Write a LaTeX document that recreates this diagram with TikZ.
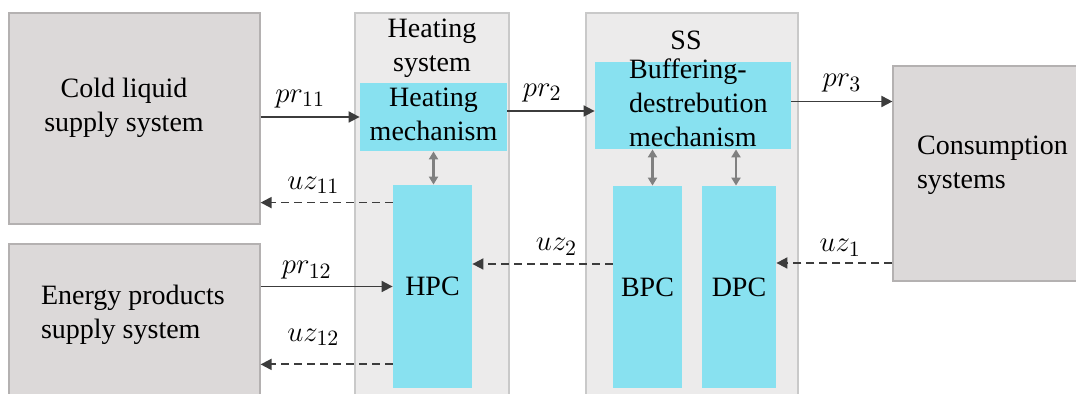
\documentclass[tikz,border=0pt]{standalone}
\usepackage{fontspec}
\setmainfont{Liberation Serif}
\usepackage{xcolor}
\usepackage{tikz}
\usetikzlibrary{arrows.meta}
\definecolor{sysgray}{HTML}{DCD9D9}
\definecolor{sysedge}{HTML}{B4B1B1}
\definecolor{boxlight}{HTML}{ECEBEB}
\definecolor{boxedge}{HTML}{C9C9C9}
\definecolor{mechcyan}{HTML}{88E1F0}
\definecolor{flowdark}{HTML}{3C3C3C}
\tikzset{
  sysbox/.style={draw=sysedge,fill=sysgray,line width=0.6pt,inner sep=0pt},
  outbox/.style={draw=boxedge,fill=boxlight,line width=0.6pt,inner sep=0pt},
  mech/.style={fill=mechcyan,inner sep=0pt},
  txt/.style={font=\fontsize{14}{17}\selectfont},
  pr/.style={draw=flowdark,line width=0.9pt,-{Triangle[length=5.5pt,width=5.5pt]}},
  uz/.style={draw=flowdark,line width=0.9pt,dash pattern=on 4pt off 2.5pt,-{Triangle[length=5.5pt,width=5.5pt]}},
  link/.style={draw=gray,line width=1.1pt,{Triangle[length=4pt,width=4.5pt]}-{Triangle[length=4pt,width=4.5pt]}},
  lab/.style={font=\fontsize{15}{15}\selectfont,inner sep=1pt}
}
\begin{document}
\begin{tikzpicture}[x=0.5pt,y=-0.5pt]
\useasboundingbox[fill=white] (0,0) rectangle (1076,394);
\begin{scope}
\clip (0,0) rectangle (1076,394);
% supply and consumption systems
\node[sysbox,minimum width=125.5pt,minimum height=105.5pt] (cold) at (134.5,118.5) {};
\node[txt,align=center] (coldtxt) at (124,108) {Cold liquid\\supply system};
\node[sysbox,minimum width=125.5pt,minimum height=78pt] (energy) at (134.5,322) {};
\node[txt,align=left,anchor=west] (energytxt) at (34,315) {Energy products\\supply system};
\node[sysbox,minimum width=93.5pt,minimum height=107.5pt] (cons) at (986.5,173.5) {};
\node[txt,align=left,anchor=west] (constxt) at (910,165) {Consumption\\systems};
% heating system
\node[outbox,minimum width=77pt,minimum height=193.5pt] (heat) at (432,206.5) {};
\node[txt,align=center,anchor=north] (heattxt) at (432,12) {Heating\\system};
\node[mech,minimum width=73.5pt,minimum height=34pt] (hmech) at (433.5,117) {};
\node[txt,align=center] (hmechtxt) at (433.5,114) {Heating\\mechanism};
\node[mech,minimum width=39.5pt,minimum height=101.5pt,txt] (hpc) at (432.5,286.5) {HPC};
% storage system
\node[outbox,minimum width=106pt,minimum height=193.5pt] (ss) at (692,206.5) {};
\node[txt] (sstxt) at (686,40) {SS};
\node[mech,minimum width=98pt,minimum height=43.5pt] (buf) at (693,105.5) {};
\node[txt,align=left,anchor=west] (buftxt) at (622,103) {Buffering-\\destrebution\\mechanism};
\node[mech,minimum width=34.5pt,minimum height=101pt,txt] (bpc) at (647.5,287) {BPC};
\node[mech,minimum width=37pt,minimum height=101pt,txt] (dpc) at (739,287) {DPC};
% flows
\draw[pr] (cold.east |- hmech.west) -- node[lab,above=3pt,pos=0.4] {$pr_{11}$} (hmech.west);
\draw[pr] ([yshift=3pt]hmech.east) -- node[lab,above=3pt,pos=0.4] {$pr_{2}$} ([yshift=3pt]hmech.east -| buf.west);
\draw[pr] ([yshift=2pt]buf.east) -- node[lab,above=3pt] {$pr_{3}$} ([yshift=2pt]buf.east -| cons.west);
\draw[pr] (energy.east |- hpc.west) -- node[lab,above=2pt,pos=0.35] {$pr_{12}$} (hpc.west);
% feedback
\draw[uz] ([yshift=-9pt]hpc.north west) -- node[lab,above=3pt,pos=0.6] {$uz_{11}$} ([yshift=-9pt]hpc.north west -| cold.east);
\draw[uz] ([yshift=12pt]hpc.south west) -- node[lab,above=8pt,pos=0.6] {$uz_{12}$} ([yshift=12pt]hpc.south west -| energy.east);
\draw[uz] ([yshift=11.5pt]bpc.west) -- node[lab,above=3pt,pos=0.4] {$uz_{2}$} ([yshift=11.5pt]bpc.west -| hpc.east);
\draw[uz] ([yshift=12pt]dpc.west -| cons.west) -- node[lab,above=2pt,pos=0.45] {$uz_{1}$} ([yshift=12pt]dpc.east);
% links between mechanisms and controllers
\draw[link] (hmech.south) -- (hmech.south |- hpc.north);
\draw[link] ([xshift=2.5pt]bpc.north |- buf.south) -- ([xshift=2.5pt]bpc.north);
\draw[link] ([xshift=-1.5pt]dpc.north |- buf.south) -- ([xshift=-1.5pt]dpc.north);
\end{scope}
\end{tikzpicture}
\end{document}
